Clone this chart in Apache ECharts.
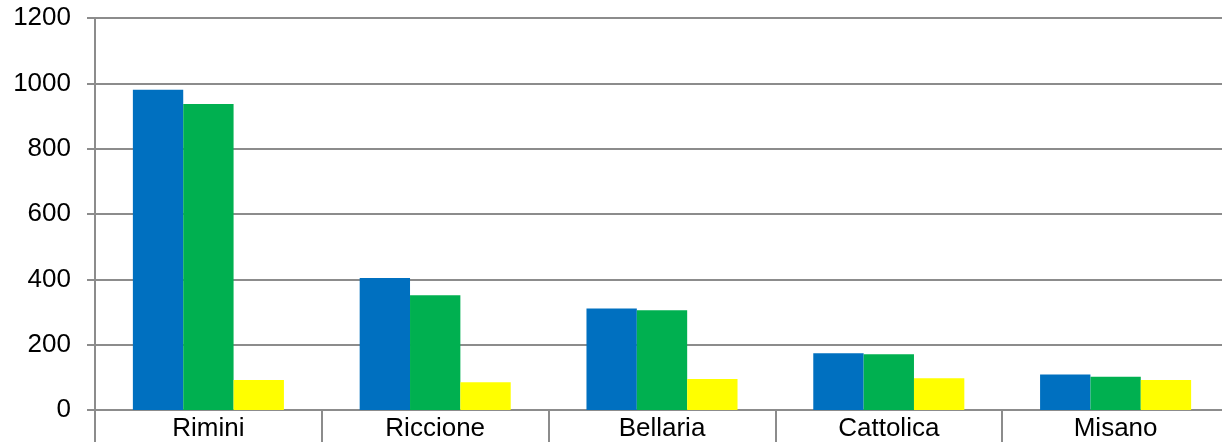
<!DOCTYPE html>
<html>
<head>
<meta charset="utf-8">
<script src="https://cdn.jsdelivr.net/npm/echarts@6/dist/echarts.min.js"></script>
<style>
  html, body { margin: 0; padding: 0; background: #fff; overflow: hidden; }
  /* the plot runs a little past the right edge in the original, so the div is wider than the window */
  #chart { width: 1229px; height: 442px; }
</style>
</head>
<body>
<div id="chart"></div>
<script>
const cities = ['Rimini', 'Riccione', 'Bellaria', 'Cattolica', 'Misano']
const blueValues = [980, 404, 311, 174, 109]
const greenValues = [937, 351, 305, 171, 102]
const yellowValues = [92, 85, 95, 97, 92]
const yTicks = [0, 200, 400, 600, 800, 1000, 1200]

const chart = echarts.init(document.getElementById('chart'))

const axisGray = '#8c8c8c'
const font = 'Liberation Sans, Arial, sans-serif'

const option = {
  animation: false,
  grid: { left: 95, right: 0, top: 18, bottom: 32 },
  xAxis: {
    type: 'category',
    data: cities,
    axisLine: { lineStyle: { color: axisGray, width: 2 } },
    axisTick: { show: true, length: 32, alignWithLabel: false, lineStyle: { color: axisGray, width: 2 } },
    axisLabel: { color: '#000', fontSize: 26, fontFamily: font, margin: 6 }
  },
  yAxis: {
    type: 'value',
    min: yTicks[0],
    max: yTicks[yTicks.length - 1],
    interval: 200,
    axisLine: { show: true, lineStyle: { color: axisGray, width: 2 } },
    axisTick: { show: true, length: 8, lineStyle: { color: axisGray, width: 2 } },
    splitLine: { show: true, lineStyle: { color: axisGray, width: 2 } },
    axisLabel: { color: '#000', fontSize: 26, fontFamily: font, margin: 24, formatter: v => String(v) }
  },
  series: [
    { type: 'bar', data: blueValues, itemStyle: { color: '#0070C0' }, barGap: '0%', barCategoryGap: '33.4%' },
    { type: 'bar', data: greenValues, itemStyle: { color: '#00B050' }, barGap: '0%', barCategoryGap: '33.4%' },
    { type: 'bar', data: yellowValues, itemStyle: { color: '#FFFF00' }, barGap: '0%', barCategoryGap: '33.4%' }
  ]
}

chart.setOption(option)
</script>
</body>
</html>
